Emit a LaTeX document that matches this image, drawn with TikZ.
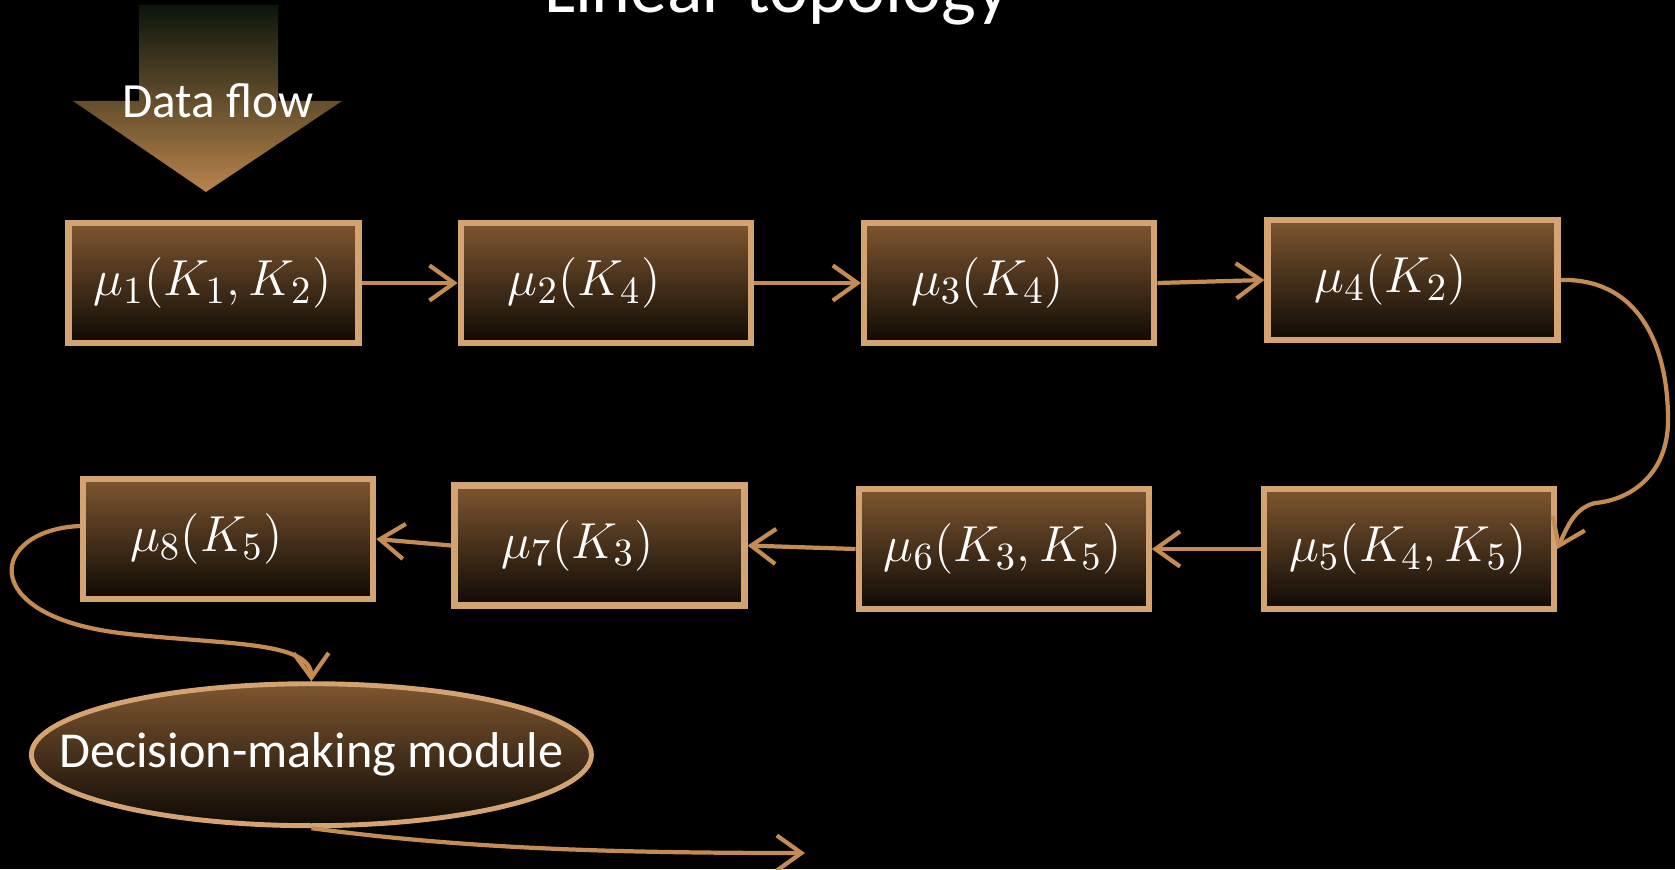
\documentclass[tikz,border=0pt]{standalone}
\usepackage[no-math]{fontspec}
\newfontfamily\slidefont{Carlito}
\usetikzlibrary{arrows.meta,positioning,shapes.geometric}
\definecolor{tanline}{HTML}{D3A472}
\definecolor{tanarrow}{HTML}{C48C52}
\definecolor{boxtop}{HTML}{7E5630}
\definecolor{boxbot}{HTML}{0E0A05}
\definecolor{flowtop}{HTML}{0B150B}
\definecolor{flowbot}{HTML}{B8844C}
\tikzset{
  modbox/.style   = {rectangle, draw=tanline, line width=1.8pt,
                     top color=boxtop, bottom color=boxbot,
                     minimum width=2.9cm, minimum height=1.2cm,
                     text width=1.96cm, inner xsep=0.47cm, align=left,
                     font=\fontsize{15.6}{19}\selectfont, text=white},
  modwide/.style  = {modbox, text width=2.4cm, inner xsep=0.25cm},
  decide/.style   = {ellipse, draw=tanline, line width=1.4pt,
                     top color=boxtop, bottom color=boxbot,
                     minimum width=5.6cm, minimum height=1.42cm, inner sep=0pt,
                     font=\slidefont\fontsize{14.3}{17}\selectfont, text=white},
  slidetext/.style = {font=\slidefont\fontsize{14}{17}\selectfont, text=white},
  titletext/.style = {font=\slidefont\fontsize{21}{25}\selectfont, text=white},
  flow/.style     = {-{Straight Barb[length=7pt,width=10pt]}, line width=1.2pt, tanarrow},
}

\begin{document}
\begin{tikzpicture}
% Black slide, cut to its frame
\fill[black] (0,0) rectangle (16.75,-8.69);
\clip (0,0) rectangle (16.75,-8.69);

% Title, mostly above the top edge
\node[titletext, anchor=base] (title) at (7.77,-0.13) {Linear topology};

% Data flow arrow
\shade[top color=flowtop, bottom color=flowbot]
  (1.39,-0.05) -- (2.78,-0.05) -- (2.78,-1.01) -- (3.42,-1.01)
  -- (2.06,-1.92) -- (0.73,-1.01) -- (1.39,-1.01) -- cycle;
\node[slidetext] (flowlbl) at (2.18,-1.01) {Data flow};

% Top row
\node[modwide] (m1) at (2.135,-2.83) {$\mu_1(K_1,K_2)$};
\node[modbox, right=0.96cm of m1] (m2) {$\mu_2(K_4)$};
\node[modbox, right=1.07cm of m2] (m3) {$\mu_3(K_4)$};
\node[modbox, right=1.07cm of m3, yshift=0.03cm] (m4) {$\mu_4(K_2)$};

% Bottom row, right to left
\node[modwide] (m5) at (14.09,-5.49) {$\mu_5(K_4,K_5)$};
\node[modwide, left=1.09cm of m5] (m6) {$\mu_6(K_3,K_5)$};
\node[modbox, left=1.08cm of m6, yshift=0.035cm] (m7) {$\mu_7(K_3)$};
\node[modbox, left=0.75cm of m7, yshift=0.065cm] (m8) {$\mu_8(K_5)$};

% Decision module
\node[decide] (dm) at (3.114,-7.547) {\makebox[0pt]{\raisebox{-0.05cm}{Decision-making module}}};

% Links
\draw[flow] (m1.east) -- (m2.west);
\draw[flow] (m2.east) -- (m3.west);
\draw[flow] (m3.east) -- (m4.west);
\coordinate (bendA) at (16.68,-4.2);
\coordinate (bendB) at (15.95,-5.03);
\draw[flow] (m4.east) .. controls (16.35,-2.78) and (16.68,-3.4) .. (bendA)
  .. controls (16.68,-4.75) and (16.3,-5.0) .. (bendB)
  .. controls (15.75,-5.08) and (15.68,-5.25) .. (m5.east);
\draw[flow] (m5.west) -- (m6.east);
\draw[flow] (m6.west) -- (m7.east);
\draw[flow] (m7.west) -- (m8.east);
\coordinate (loopA) at (1.2,-6.33);
\draw[flow] ([yshift=0.13cm]m8.west) .. controls (-0.1,-5.3) and (-0.25,-6.15) .. (loopA)
  .. controls (2.2,-6.45) and (3.11,-6.4) .. (dm.north);
\coordinate (outpt) at (8.05,-8.53);
\draw[flow] (dm.south) .. controls +(1.5,-0.2) and +(-2,0) .. (outpt);
\end{tikzpicture}
\end{document}
